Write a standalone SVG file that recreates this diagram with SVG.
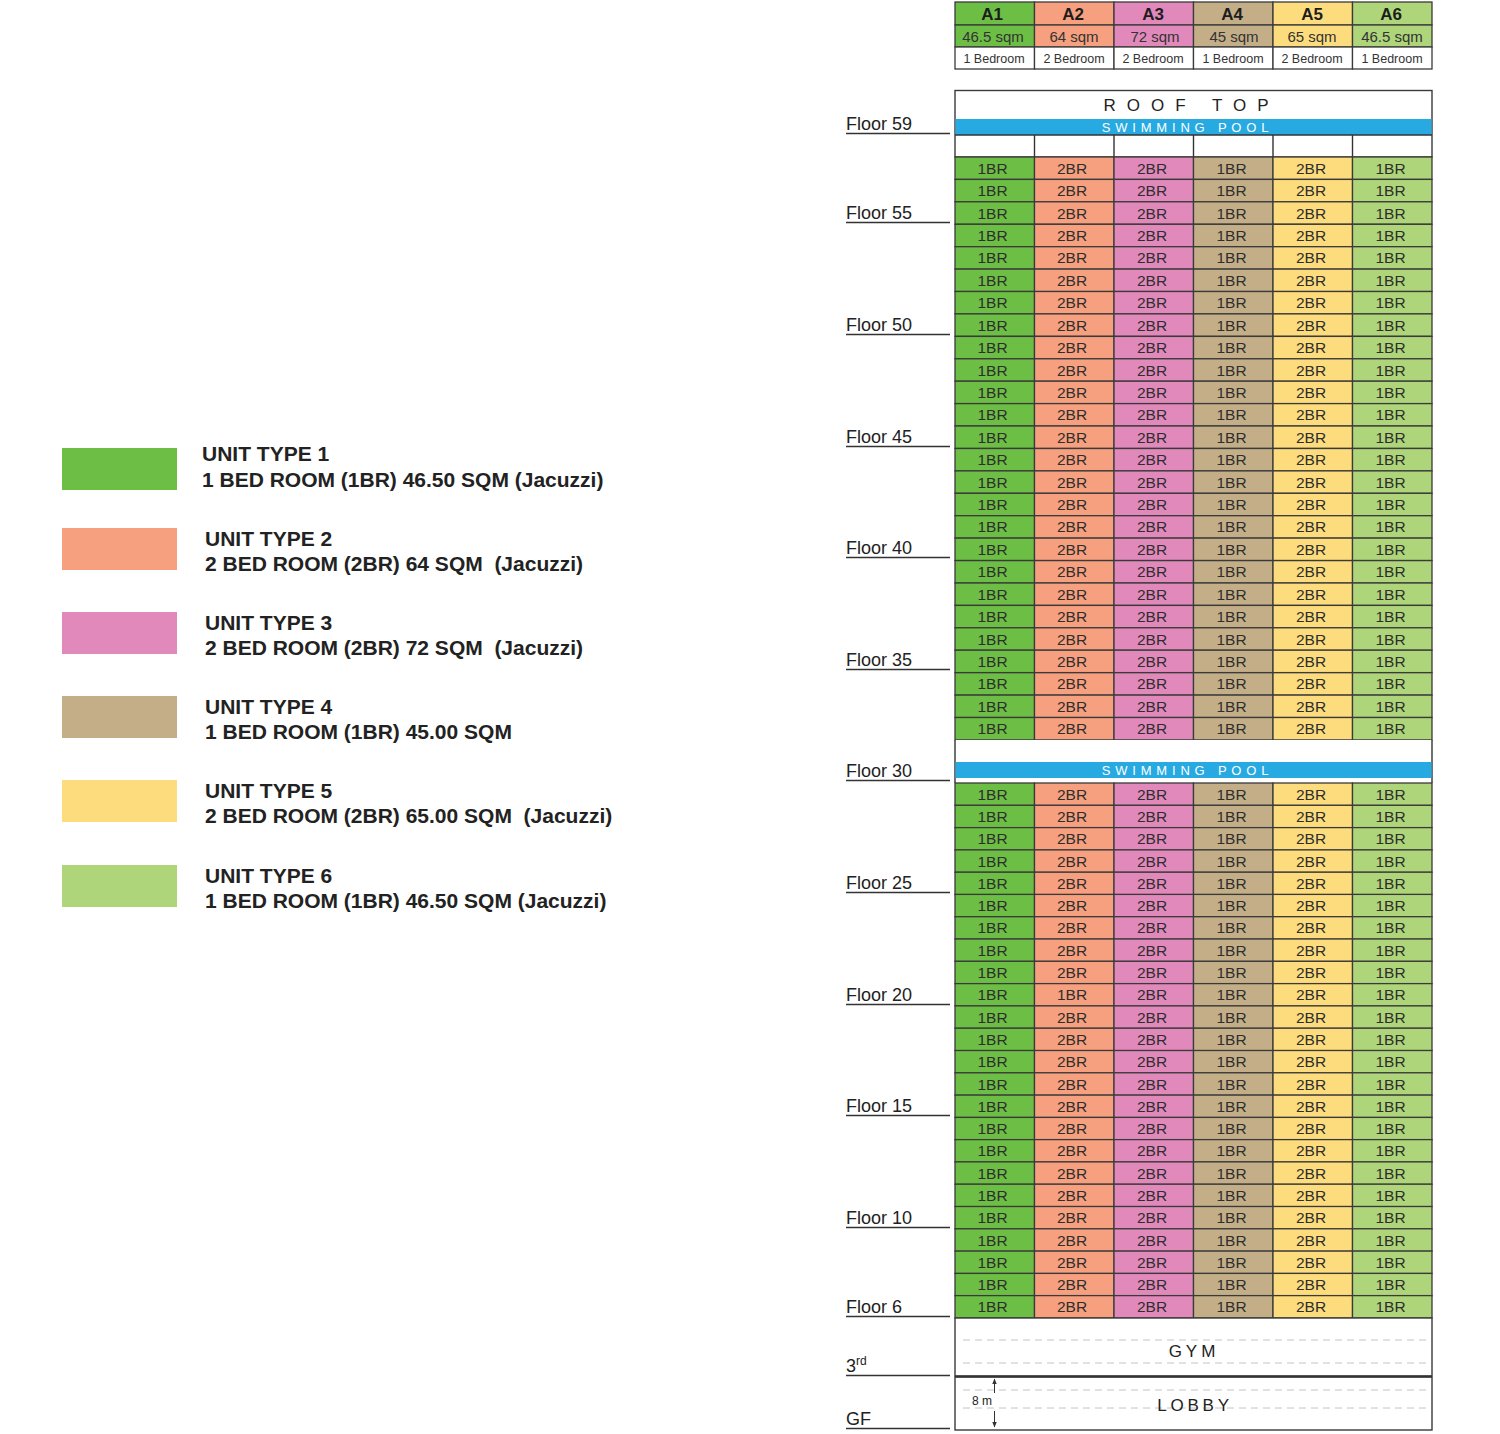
<svg xmlns="http://www.w3.org/2000/svg" xmlns:xlink="http://www.w3.org/1999/xlink" width="1500" height="1434" viewBox="0 0 1500 1434">
<style>
.c1{fill:#6dbe45}.c2{fill:#f6a07f}.c3{fill:#e289bc}.c4{fill:#c4ae88}.c5{fill:#fddc7d}.c6{fill:#aed57a}
.cell{stroke:#3a3a3a;stroke-width:1.3}
.ct{font-family:"Liberation Sans",Arial,sans-serif;font-size:15.5px;fill:#2e2e2e;text-anchor:middle}
.hd{font-family:"Liberation Sans",Arial,sans-serif;font-size:17px;font-weight:bold;fill:#1d1d1d;text-anchor:middle}
.hs{font-family:"Liberation Sans",Arial,sans-serif;font-size:15px;fill:#333;text-anchor:middle}
.hb{font-family:"Liberation Sans",Arial,sans-serif;font-size:12.5px;fill:#333;text-anchor:middle}
.fl{font-family:"Liberation Sans",Arial,sans-serif;font-size:18px;fill:#222}
.ul{stroke:#333;stroke-width:1.4}
.lg{font-family:"Liberation Sans",Arial,sans-serif;font-size:21px;font-weight:bold;fill:#222}
.pool{fill:#27a9e1}
.pt{font-family:"Liberation Sans",Arial,sans-serif;font-size:13px;fill:#fff;text-anchor:middle;letter-spacing:4.8px}
.big{font-family:"Liberation Sans",Arial,sans-serif;font-size:17px;fill:#222;text-anchor:middle}
.box{fill:#fff;stroke:#3a3a3a;stroke-width:1.4}
.dash{stroke:#c4c4c4;stroke-width:1;stroke-dasharray:7 5}
</style>
<defs>
<marker id="ah" viewBox="0 0 10 10" refX="9" refY="5" markerWidth="6" markerHeight="6" orient="auto-start-reverse" markerUnits="userSpaceOnUse">
<path d="M0,1 L10,5 L0,9 z" fill="#333"/>
</marker>
<g id="rowA">
<rect class="cell c1" x="955" y="0" width="79.5" height="22.4"/>
<rect class="cell c2" x="1034.5" y="0" width="79.5" height="22.4"/>
<rect class="cell c3" x="1114" y="0" width="79.5" height="22.4"/>
<rect class="cell c4" x="1193.5" y="0" width="79.5" height="22.4"/>
<rect class="cell c5" x="1273" y="0" width="79.5" height="22.4"/>
<rect class="cell c6" x="1352.5" y="0" width="79.5" height="22.4"/>
<text class="ct" x="992.5" y="16.8">1BR</text>
<text class="ct" x="1072" y="16.8">2BR</text>
<text class="ct" x="1152" y="16.8">2BR</text>
<text class="ct" x="1231.5" y="16.8">1BR</text>
<text class="ct" x="1311" y="16.8">2BR</text>
<text class="ct" x="1390.5" y="16.8">1BR</text>
</g>
<g id="rowB">
<rect class="cell c1" x="955" y="0" width="79.5" height="22.4"/>
<rect class="cell c2" x="1034.5" y="0" width="79.5" height="22.4"/>
<rect class="cell c3" x="1114" y="0" width="79.5" height="22.4"/>
<rect class="cell c4" x="1193.5" y="0" width="79.5" height="22.4"/>
<rect class="cell c5" x="1273" y="0" width="79.5" height="22.4"/>
<rect class="cell c6" x="1352.5" y="0" width="79.5" height="22.4"/>
<text class="ct" x="992.5" y="16.8">1BR</text>
<text class="ct" x="1072" y="16.8">1BR</text>
<text class="ct" x="1152" y="16.8">2BR</text>
<text class="ct" x="1231.5" y="16.8">1BR</text>
<text class="ct" x="1311" y="16.8">2BR</text>
<text class="ct" x="1390.5" y="16.8">1BR</text>
</g>
</defs>
<rect x="0" y="0" width="1500" height="1434" fill="#fff"/>

<!-- Header table -->
<g id="header">
<rect class="cell c1" x="955" y="2" width="79.5" height="23"/>
<rect class="cell c2" x="1034.5" y="2" width="79.5" height="23"/>
<rect class="cell c3" x="1114" y="2" width="79.5" height="23"/>
<rect class="cell c4" x="1193.5" y="2" width="79.5" height="23"/>
<rect class="cell c5" x="1273" y="2" width="79.5" height="23"/>
<rect class="cell c6" x="1352.5" y="2" width="79.5" height="23"/>
<rect class="cell c1" x="955" y="25" width="79.5" height="22"/>
<rect class="cell c2" x="1034.5" y="25" width="79.5" height="22"/>
<rect class="cell c3" x="1114" y="25" width="79.5" height="22"/>
<rect class="cell c4" x="1193.5" y="25" width="79.5" height="22"/>
<rect class="cell c5" x="1273" y="25" width="79.5" height="22"/>
<rect class="cell c6" x="1352.5" y="25" width="79.5" height="22"/>
<rect class="cell" fill="#fff" x="955" y="47" width="79.5" height="22"/>
<rect class="cell" fill="#fff" x="1034.5" y="47" width="79.5" height="22"/>
<rect class="cell" fill="#fff" x="1114" y="47" width="79.5" height="22"/>
<rect class="cell" fill="#fff" x="1193.5" y="47" width="79.5" height="22"/>
<rect class="cell" fill="#fff" x="1273" y="47" width="79.5" height="22"/>
<rect class="cell" fill="#fff" x="1352.5" y="47" width="79.5" height="22"/>
<text class="hd" x="992" y="20">A1</text>
<text class="hd" x="1073" y="20">A2</text>
<text class="hd" x="1153" y="20">A3</text>
<text class="hd" x="1232" y="20">A4</text>
<text class="hd" x="1312" y="20">A5</text>
<text class="hd" x="1391" y="20">A6</text>
<text class="hs" x="993" y="41.5">46.5 sqm</text>
<text class="hs" x="1074" y="41.5">64 sqm</text>
<text class="hs" x="1155" y="41.5">72 sqm</text>
<text class="hs" x="1234" y="41.5">45 sqm</text>
<text class="hs" x="1312" y="41.5">65 sqm</text>
<text class="hs" x="1392" y="41.5">46.5 sqm</text>
<text class="hb" x="994" y="62.5">1 Bedroom</text>
<text class="hb" x="1074" y="62.5">2 Bedroom</text>
<text class="hb" x="1153" y="62.5">2 Bedroom</text>
<text class="hb" x="1233" y="62.5">1 Bedroom</text>
<text class="hb" x="1312" y="62.5">2 Bedroom</text>
<text class="hb" x="1392" y="62.5">1 Bedroom</text>
</g>

<!-- Roof top -->
<g id="rooftop">
<rect class="box" x="955" y="90.5" width="477" height="66.5"/>
<text class="big" x="1191.5" y="111" style="letter-spacing:11px">ROOF TOP</text>
<rect class="pool" x="955.5" y="119" width="476" height="16"/>
<text class="pt" x="1187.5" y="132">SWIMMING POOL</text>
<line class="ul" x1="955" y1="135" x2="1432" y2="135"/>
<line class="ul" x1="1034.5" y1="135" x2="1034.5" y2="157"/>
<line class="ul" x1="1114" y1="135" x2="1114" y2="157"/>
<line class="ul" x1="1193.5" y1="135" x2="1193.5" y2="157"/>
<line class="ul" x1="1273" y1="135" x2="1273" y2="157"/>
<line class="ul" x1="1352.5" y1="135" x2="1352.5" y2="157"/>
</g>

<!-- Upper floors 57..32 -->
<g id="upper-floors">
<use id="floor-57" xlink:href="#rowA" href="#rowA" y="157"/>
<use id="floor-56" xlink:href="#rowA" href="#rowA" y="179.4"/>
<use id="floor-55" xlink:href="#rowA" href="#rowA" y="201.8"/>
<use id="floor-54" xlink:href="#rowA" href="#rowA" y="224.3"/>
<use id="floor-53" xlink:href="#rowA" href="#rowA" y="246.7"/>
<use id="floor-52" xlink:href="#rowA" href="#rowA" y="269.1"/>
<use id="floor-51" xlink:href="#rowA" href="#rowA" y="291.5"/>
<use id="floor-50" xlink:href="#rowA" href="#rowA" y="313.9"/>
<use id="floor-49" xlink:href="#rowA" href="#rowA" y="336.4"/>
<use id="floor-48" xlink:href="#rowA" href="#rowA" y="358.8"/>
<use id="floor-47" xlink:href="#rowA" href="#rowA" y="381.2"/>
<use id="floor-46" xlink:href="#rowA" href="#rowA" y="403.6"/>
<use id="floor-45" xlink:href="#rowA" href="#rowA" y="426"/>
<use id="floor-44" xlink:href="#rowA" href="#rowA" y="448.5"/>
<use id="floor-43" xlink:href="#rowA" href="#rowA" y="470.9"/>
<use id="floor-42" xlink:href="#rowA" href="#rowA" y="493.3"/>
<use id="floor-41" xlink:href="#rowA" href="#rowA" y="515.7"/>
<use id="floor-40" xlink:href="#rowA" href="#rowA" y="538.1"/>
<use id="floor-39" xlink:href="#rowA" href="#rowA" y="560.6"/>
<use id="floor-38" xlink:href="#rowA" href="#rowA" y="583"/>
<use id="floor-37" xlink:href="#rowA" href="#rowA" y="605.4"/>
<use id="floor-36" xlink:href="#rowA" href="#rowA" y="627.8"/>
<use id="floor-35" xlink:href="#rowA" href="#rowA" y="650.2"/>
<use id="floor-34" xlink:href="#rowA" href="#rowA" y="672.7"/>
<use id="floor-33" xlink:href="#rowA" href="#rowA" y="695.1"/>
<use id="floor-32" xlink:href="#rowA" href="#rowA" y="717.5"/>
</g>

<!-- Mid swimming pool -->
<g id="pool-30">
<rect x="955" y="740" width="477" height="43" fill="#fff"/>
<line class="ul" x1="955" y1="740" x2="955" y2="783"/>
<line class="ul" x1="1432" y1="740" x2="1432" y2="783"/>
<rect class="pool" x="955.5" y="762" width="476" height="16"/>
<text class="pt" x="1187.5" y="775">SWIMMING POOL</text>
</g>

<!-- Lower floors 29..6 -->
<g id="lower-floors">
<use id="floor-29" xlink:href="#rowA" href="#rowA" y="783"/>
<use id="floor-28" xlink:href="#rowA" href="#rowA" y="805.3"/>
<use id="floor-27" xlink:href="#rowA" href="#rowA" y="827.6"/>
<use id="floor-26" xlink:href="#rowA" href="#rowA" y="849.9"/>
<use id="floor-25" xlink:href="#rowA" href="#rowA" y="872.2"/>
<use id="floor-24" xlink:href="#rowA" href="#rowA" y="894.4"/>
<use id="floor-23" xlink:href="#rowA" href="#rowA" y="916.7"/>
<use id="floor-22" xlink:href="#rowA" href="#rowA" y="939"/>
<use id="floor-21" xlink:href="#rowA" href="#rowA" y="961.3"/>
<use id="floor-20" xlink:href="#rowB" href="#rowB" y="983.6"/>
<use id="floor-19" xlink:href="#rowA" href="#rowA" y="1005.9"/>
<use id="floor-18" xlink:href="#rowA" href="#rowA" y="1028.2"/>
<use id="floor-17" xlink:href="#rowA" href="#rowA" y="1050.5"/>
<use id="floor-16" xlink:href="#rowA" href="#rowA" y="1072.8"/>
<use id="floor-15" xlink:href="#rowA" href="#rowA" y="1095.1"/>
<use id="floor-14" xlink:href="#rowA" href="#rowA" y="1117.4"/>
<use id="floor-13" xlink:href="#rowA" href="#rowA" y="1139.6"/>
<use id="floor-12" xlink:href="#rowA" href="#rowA" y="1161.9"/>
<use id="floor-11" xlink:href="#rowA" href="#rowA" y="1184.2"/>
<use id="floor-10" xlink:href="#rowA" href="#rowA" y="1206.5"/>
<use id="floor-9" xlink:href="#rowA" href="#rowA" y="1228.8"/>
<use id="floor-8" xlink:href="#rowA" href="#rowA" y="1251.1"/>
<use id="floor-7" xlink:href="#rowA" href="#rowA" y="1273.4"/>
<use id="floor-6" xlink:href="#rowA" href="#rowA" y="1295.6"/>
</g>

<!-- Gym -->
<g id="gym">
<rect class="box" x="955" y="1318" width="477" height="58"/>
<line class="dash" x1="963" y1="1340" x2="1426" y2="1340"/>
<line class="dash" x1="963" y1="1363" x2="1426" y2="1363"/>
<text class="big" x="1194" y="1357" style="letter-spacing:4px">GYM</text>
</g>

<!-- Lobby -->
<g id="lobby">
<rect class="box" x="955" y="1377" width="477" height="53"/>
<line x1="955" y1="1376.5" x2="1432" y2="1376.5" stroke="#333" stroke-width="2.2"/>
<line class="dash" x1="963" y1="1390" x2="1426" y2="1390"/>
<line class="dash" x1="963" y1="1408" x2="1426" y2="1408"/>
<text class="big" x="1195" y="1411" style="letter-spacing:3.8px">LOBBY</text>
<text x="972" y="1405" font-family="'Liberation Sans',Arial,sans-serif" font-size="12" fill="#222">8 m</text>
</g>

<g id="connectors">
<line x1="994.5" y1="1393" x2="994.5" y2="1379" stroke="#333" stroke-width="1" marker-end="url(#ah)"/>
<line x1="994.5" y1="1411" x2="994.5" y2="1427" stroke="#333" stroke-width="1" marker-end="url(#ah)"/>
</g>

<!-- Floor labels -->
<g id="floor-labels">
<text class="fl" x="846" y="130">Floor 59</text><line class="ul" x1="846" y1="133.5" x2="950" y2="133.5"/>
<text class="fl" x="846" y="219">Floor 55</text><line class="ul" x1="846" y1="222.5" x2="950" y2="222.5"/>
<text class="fl" x="846" y="331">Floor 50</text><line class="ul" x1="846" y1="334.5" x2="950" y2="334.5"/>
<text class="fl" x="846" y="443">Floor 45</text><line class="ul" x1="846" y1="446.5" x2="950" y2="446.5"/>
<text class="fl" x="846" y="554">Floor 40</text><line class="ul" x1="846" y1="557.5" x2="950" y2="557.5"/>
<text class="fl" x="846" y="666">Floor 35</text><line class="ul" x1="846" y1="669.5" x2="950" y2="669.5"/>
<text class="fl" x="846" y="777">Floor 30</text><line class="ul" x1="846" y1="780.5" x2="950" y2="780.5"/>
<text class="fl" x="846" y="889">Floor 25</text><line class="ul" x1="846" y1="892.5" x2="950" y2="892.5"/>
<text class="fl" x="846" y="1001">Floor 20</text><line class="ul" x1="846" y1="1004.5" x2="950" y2="1004.5"/>
<text class="fl" x="846" y="1112">Floor 15</text><line class="ul" x1="846" y1="1115.5" x2="950" y2="1115.5"/>
<text class="fl" x="846" y="1224">Floor 10</text><line class="ul" x1="846" y1="1227.5" x2="950" y2="1227.5"/>
<text class="fl" x="846" y="1313">Floor 6</text><line class="ul" x1="846" y1="1316.5" x2="950" y2="1316.5"/>
<text class="fl" x="846" y="1372">3<tspan font-size="12" dy="-7">rd</tspan></text><line class="ul" x1="846" y1="1375.5" x2="950" y2="1375.5"/>
<text class="fl" x="846" y="1425">GF</text><line class="ul" x1="846" y1="1428.5" x2="950" y2="1428.5"/>
</g>

<!-- Legend -->
<g id="legend-1"><rect class="c1" x="62" y="448" width="115" height="42"/><text class="lg" x="202" y="460.5">UNIT TYPE 1</text><text class="lg" x="202" y="486.5" xml:space="preserve">1 BED ROOM (1BR) 46.50 SQM (Jacuzzi)</text></g>
<g id="legend-2"><rect class="c2" x="62" y="528" width="115" height="42"/><text class="lg" x="205" y="545.5">UNIT TYPE 2</text><text class="lg" x="205" y="570.5" xml:space="preserve">2 BED ROOM (2BR) 64 SQM  (Jacuzzi)</text></g>
<g id="legend-3"><rect class="c3" x="62" y="612" width="115" height="42"/><text class="lg" x="205" y="629.5">UNIT TYPE 3</text><text class="lg" x="205" y="654.5" xml:space="preserve">2 BED ROOM (2BR) 72 SQM  (Jacuzzi)</text></g>
<g id="legend-4"><rect class="c4" x="62" y="696" width="115" height="42"/><text class="lg" x="205" y="713.5">UNIT TYPE 4</text><text class="lg" x="205" y="738.5" xml:space="preserve">1 BED ROOM (1BR) 45.00 SQM</text></g>
<g id="legend-5"><rect class="c5" x="62" y="780" width="115" height="42"/><text class="lg" x="205" y="797.5">UNIT TYPE 5</text><text class="lg" x="205" y="822.5" xml:space="preserve">2 BED ROOM (2BR) 65.00 SQM  (Jacuzzi)</text></g>
<g id="legend-6"><rect class="c6" x="62" y="865" width="115" height="42"/><text class="lg" x="205" y="882.5">UNIT TYPE 6</text><text class="lg" x="205" y="907.5" xml:space="preserve">1 BED ROOM (1BR) 46.50 SQM (Jacuzzi)</text></g>
</svg>
